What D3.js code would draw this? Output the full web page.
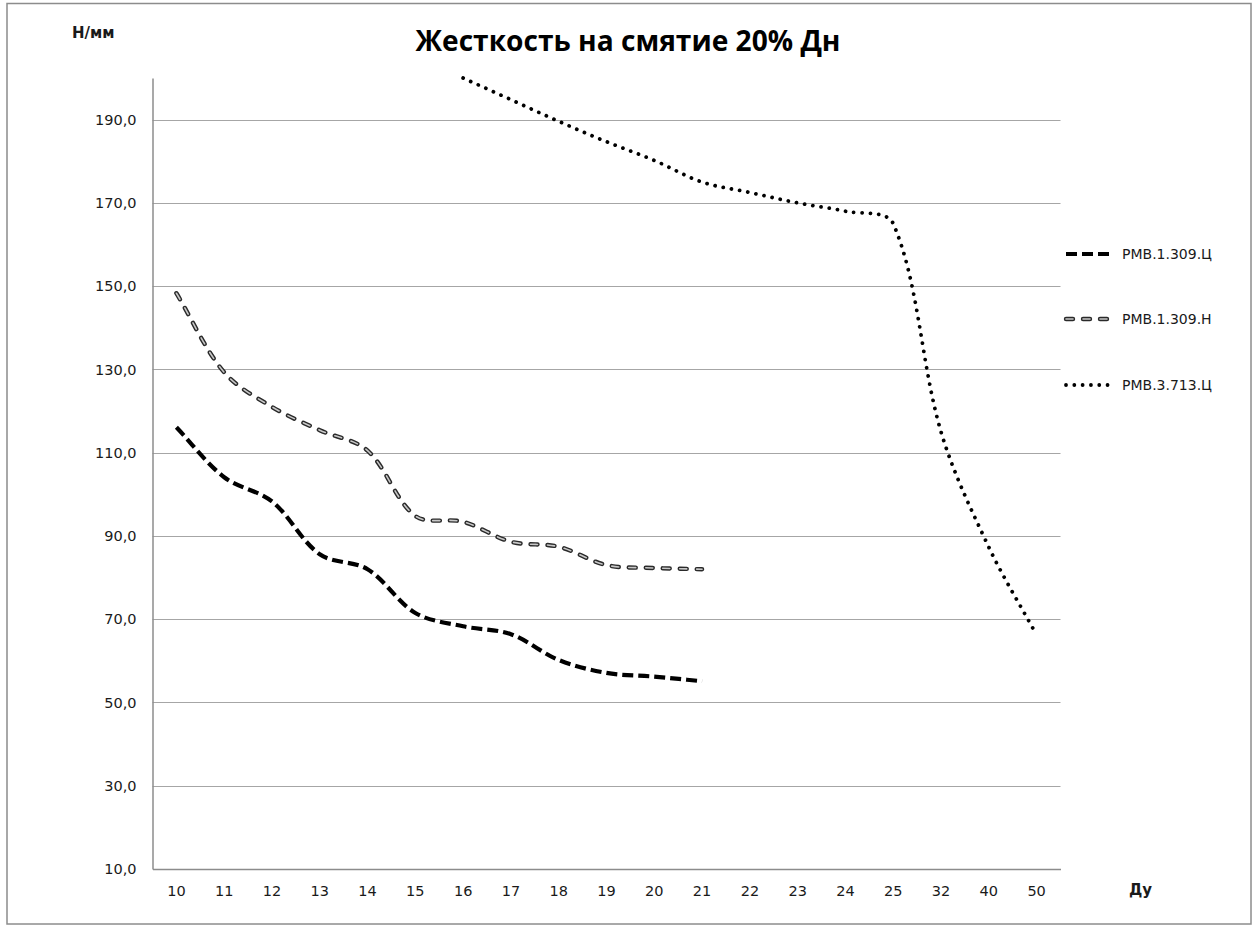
<!DOCTYPE html>
<html><head><meta charset="utf-8">
<script src="https://cdn.jsdelivr.net/npm/d3@7"></script>
<style>body{margin:0;background:#fff}svg{display:block}</style>
</head><body>
<svg id="c" width="1256" height="926"></svg>
<script>
const categories = ["10","11","12","13","14","15","16","17","18","19","20","21","22","23","24","25","32","40","50"];
const seriesNames = ["РМВ.1.309.Ц","РМВ.1.309.Н","РМВ.3.713.Ц"];
const s1 = [116.1,104.1,98.3,85.6,82.0,71.5,68.3,66.4,60.2,57.1,56.2,55.1,null,null,null,null,null,null,null];
const s2 = [148.3,129.3,121.0,115.4,110.5,94.8,93.4,88.6,87.4,83.0,82.3,82.0,null,null,null,null,null,null,null];
const s3 = [null,null,null,null,null,null,200.0,194.8,189.6,184.7,180.2,175.0,172.5,170.0,168.0,165.0,115.0,87.3,66.2];
const yTicks = [10,30,50,70,90,110,130,150,170,190];
const title = "Жесткость на смятие 20% Дн";
const yTitle = "Н/мм";
const xTitle = "Ду";

const svg = d3.select("#c");
const m = {left:152.5, top:78, right:1060.5, bottom:869};

svg.append("rect").attr("x",7).attr("y",3.5).attr("width",1244).attr("height",920.5)
  .attr("fill","#fff").attr("stroke","#8c8c8c").attr("stroke-width",1.5);

const x = d3.scaleBand().domain(categories).range([m.left, m.right]).padding(0);
const y = d3.scaleLinear().domain([10,200]).range([m.bottom, m.top]);

// gridlines
svg.append("g").selectAll("line").data(yTicks.filter(d=>d>10)).join("line")
  .attr("x1",m.left).attr("x2",m.right)
  .attr("y1",d=>Math.round(y(d))+0.5).attr("y2",d=>Math.round(y(d))+0.5)
  .attr("stroke","#a6a6a6").attr("stroke-width",1.2);

// axes
const yAxis = d3.axisLeft(y).tickValues(yTicks).tickSize(0).tickPadding(16)
  .tickFormat(d=>d3.format(".1f")(d).replace(".",","));
const gy = svg.append("g").attr("transform",`translate(${m.left},0)`).call(yAxis);
gy.select(".domain").attr("stroke","#8c8c8c").attr("stroke-width",1.5);
gy.selectAll("text").attr("font-family","DejaVu Sans").attr("font-size",14.5).attr("fill","#1a1a1a");

const xAxis = d3.axisBottom(x).tickSize(0).tickPadding(17);
const gx = svg.append("g").attr("transform",`translate(0,${m.bottom})`).call(xAxis);
gx.select(".domain").attr("stroke","#8c8c8c").attr("stroke-width",1.5);
gx.selectAll("text").attr("font-family","DejaVu Sans").attr("font-size",14.5).attr("fill","#1a1a1a");

// titles
svg.append("text").attr("x",628).attr("y",51).attr("text-anchor","middle")
  .attr("font-family","Open Sans").attr("font-weight","bold").attr("font-size",28)
  .attr("textLength",425).attr("lengthAdjust","spacingAndGlyphs")
  .attr("fill","#000").text(title);
svg.append("text").attr("x",72).attr("y",38).attr("font-family","DejaVu Sans").attr("font-weight","bold")
  .attr("font-size",15).attr("fill","#1a1a1a").text(yTitle);
svg.append("text").attr("x",1129).attr("y",895).attr("font-family","DejaVu Sans").attr("font-weight","bold")
  .attr("font-size",15).attr("fill","#1a1a1a").text(xTitle);

// Excel-like smoothed line: Bezier with chord-length scaled tangents
function smoothPath(arr){
  const p = categories.map((c,i)=>[c,arr[i]]).filter(d=>d[1]!==null)
    .map(d=>[x(d[0])+x.bandwidth()/2, y(d[1])]);
  const path = d3.path();
  if(!p.length) return "";
  const dist=(a,b)=>Math.hypot(b[0]-a[0],b[1]-a[1]);
  const tan = i=>{
    const a = p[Math.max(i-1,0)], b = p[Math.min(i+1,p.length-1)];
    const dd = (i>0?dist(p[i-1],p[i]):0) + (i<p.length-1?dist(p[i],p[i+1]):0);
    return [(b[0]-a[0])/dd,(b[1]-a[1])/dd];
  };
  path.moveTo(p[0][0],p[0][1]);
  for(let i=0;i<p.length-1;i++){
    const d = dist(p[i],p[i+1]);
    const t1 = tan(i), t2 = tan(i+1);
    path.bezierCurveTo(p[i][0]+t1[0]*d/3, p[i][1]+t1[1]*d/3,
                       p[i+1][0]-t2[0]*d/3, p[i+1][1]-t2[1]*d/3,
                       p[i+1][0], p[i+1][1]);
  }
  return path.toString();
}

const styles = [
  [{stroke:"#000",w:4.2,dash:"11,5",cap:"butt"}],
  [{stroke:"#2a2a2a",w:4.4,dash:"7,10",cap:"round"},{stroke:"#c8c8c8",w:1.6,dash:"7,10",cap:"round"}],
  [{stroke:"#000",w:3.8,dash:"0.01,8.3",cap:"round"}]
];
const data = [s1,s2,s3];
const gl = svg.append("g");
data.forEach((s,i)=>{
  styles[i].forEach(st=>{
    gl.append("path").attr("d",smoothPath(s)).attr("fill","none")
      .attr("stroke",st.stroke).attr("stroke-width",st.w).attr("stroke-dasharray",st.dash)
      .attr("stroke-linecap",st.cap);
  });
});

// legend
const legY = [254,319,385];
seriesNames.forEach((n,i)=>{
  const g = svg.append("g");
  styles[i].forEach(st=>{
    g.append("line").attr("x1",1066).attr("x2",1112).attr("y1",legY[i]).attr("y2",legY[i])
      .attr("stroke",st.stroke).attr("stroke-width",st.w).attr("stroke-dasharray",st.dash)
      .attr("stroke-linecap",st.cap);
  });
  g.append("text").attr("x",1122).attr("y",legY[i]).attr("dy","0.35em")
    .attr("font-family","DejaVu Sans").attr("font-size",14).attr("fill","#1a1a1a").text(n);
});
</script>
</body></html>
